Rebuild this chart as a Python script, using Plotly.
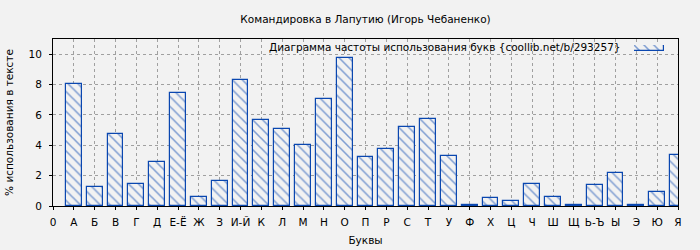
import plotly.graph_objects as go

letters = ["А", "Б", "В", "Г", "Д", "Е-Ё", "Ж", "З", "И-Й", "К", "Л", "М", "Н", "О", "П",
           "Р", "С", "Т", "У", "Ф", "Х", "Ц", "Ч", "Ш", "Щ", "Ь-Ъ", "Ы", "Э", "Ю", "Я"]
values = [8.02, 1.23, 4.73, 1.43, 2.88, 7.45, 0.57, 1.63, 8.29, 5.67, 5.08, 4.00, 7.03, 9.74, 3.21,
          3.76, 5.19, 5.71, 3.27, 0.07, 0.51, 0.31, 1.43, 0.57, 0.07, 1.36, 2.15, 0.07, 0.90, 3.34]
positions = list(range(1, len(letters) + 1))
tick_vals = list(range(0, len(letters) + 1))
tick_text = ["0"] + letters
y_ticks = [0, 2, 4, 6, 8, 10]

title = "Командировка в Лапутию (Игорь Чебаненко)"
legend_text = "Диаграмма частоты использования букв {coollib.net/b/293257}"

blue = "#0a47b0"
bg = "#f2f2f2"
fs = 10.5
font = dict(family="DejaVu Sans", size=fs, color="#000000")

# plot area in pixels
L, R, T, B = 53, 678, 39, 206
W, H = 700, 250

bar_marker = dict(color=bg, line=dict(color=blue, width=1.2),
                  pattern=dict(shape="\\", fgcolor=blue, bgcolor=bg, size=7, solidity=0.22))

fig = go.Figure()
fig.add_trace(go.Bar(x=positions, y=values, width=0.76, marker=bar_marker, showlegend=False))

# legend glyph drawn as a tiny bar on its own axes
fig.add_trace(go.Bar(x=[0], y=[1], width=1, marker=bar_marker, showlegend=False,
                     xaxis="x2", yaxis="y2", hoverinfo="skip"))

fig.update_layout(
    width=W, height=H,
    margin=dict(l=L, r=W - R, t=T, b=H - B, autoexpand=False),
    paper_bgcolor=bg, plot_bgcolor=bg,
    font=font,
    title=dict(text=title, x=(L + R) / 2 / W, xanchor="center", y=1 - 19 / H, yanchor="middle",
               font=dict(family="DejaVu Sans", size=fs, color="#000")),
    showlegend=False,
    bargap=0,
    xaxis=dict(
        range=[0, 30], tickmode="array", tickvals=tick_vals, ticktext=tick_text, tickangle=0,
        showgrid=True, gridcolor="#a0a0a0", griddash="dot", gridwidth=1,
        showline=True, linecolor="#000", linewidth=1, mirror=True,
        ticks="outside", ticklen=3, tickcolor="#000", ticklabelstandoff=3,
        title=dict(text="Буквы", font=dict(size=fs), standoff=10),
        zeroline=False, automargin=False,
    ),
    yaxis=dict(
        range=[0, 11], tickmode="array", tickvals=y_ticks,
        showgrid=True, gridcolor="#a0a0a0", griddash="dot", gridwidth=1,
        showline=True, linecolor="#000", linewidth=1, mirror=True,
        ticks="outside", ticklen=3, tickcolor="#000", ticklabelstandoff=5,
        title=dict(text="% использования в тексте", font=dict(size=fs), standoff=12),
        zeroline=False, automargin=False,
    ),
    xaxis2=dict(domain=[(634 - L) / (R - L), (664 - L) / (R - L)], range=[-0.5, 0.5], anchor="y2",
                visible=False, fixedrange=True),
    yaxis2=dict(domain=[(B - 51) / (B - T), (B - 45) / (B - T)], range=[0, 1], anchor="x2",
                visible=False, fixedrange=True),
)
fig.add_annotation(text=legend_text, xref="paper", yref="paper", x=(623 - L) / (R - L),
                   y=1 - 8 / (B - T), xanchor="right", yanchor="middle", showarrow=False,
                   font=dict(family="DejaVu Sans", size=fs, color="#000"))

fig.write_html("out.html")
